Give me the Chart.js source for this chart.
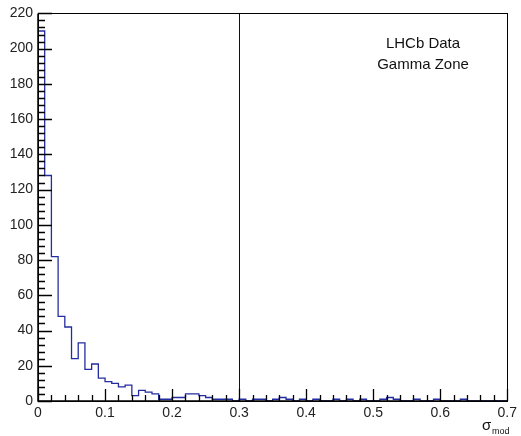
<!DOCTYPE html>
<html>
<head>
<meta charset="utf-8">
<script src="https://cdn.jsdelivr.net/npm/chart.js@4/dist/chart.umd.min.js"></script>
<style>
html,body{margin:0;padding:0;background:#fff;}
#wrap{width:521px;height:436px;position:relative;}
</style>
</head>
<body>
<div id="wrap"><canvas id="c" width="521" height="436"></canvas></div>
<script>
// ---- data ----
const binWidth = 0.01;
const counts = [
  210, 128, 82, 48, 42, 24, 33, 18, 21, 13,
  11, 10, 8, 9, 3, 6, 5, 4, 1, 1,
  2, 2, 4, 4, 3, 2, 1, 1, 1, 0,
  1, 0, 1, 1, 0, 1, 2, 1, 0, 1,
  0, 1, 0, 0, 1, 0, 1, 0, 1, 0,
  0, 1, 2, 1, 0, 0, 1, 0, 0, 1,
  0, 0, 0, 1, 0, 0, 0, 0, 0, 0
];
const xTickValues = [0, 0.1, 0.2, 0.3, 0.4, 0.5, 0.6, 0.7];
const xTickLabels = ['0', '0.1', '0.2', '0.3', '0.4', '0.5', '0.6', '0.7'];
const yTickValues = [0, 20, 40, 60, 80, 100, 120, 140, 160, 180, 200, 220];
const yTickLabels = ['0', '20', '40', '60', '80', '100', '120', '140', '160', '180', '200', '220'];
const cutValue = 0.3;
const legendLines = ['LHCb Data', 'Gamma Zone'];
const xTitle = 'σ';
const xTitleSub = 'mod';

// build step points from the histogram (value of bin i spans [i*w, (i+1)*w])
const histPoints = [{x: 0, y: 0}];
counts.forEach((v, i) => histPoints.push({x: (i + 1) * binWidth, y: v}));

const FONT = '"Liberation Sans", Arial, Helvetica, sans-serif';

const rootPlugin = {
  id: 'rootStyle',
  afterDraw(chart) {
    const {ctx, chartArea: a, scales: {x, y}} = chart;
    ctx.save();
    // cut line
    ctx.strokeStyle = '#111';
    ctx.lineWidth = 1;
    const cx = Math.round(x.getPixelForValue(cutValue)) + 0.5;
    ctx.beginPath();
    ctx.moveTo(cx, y.getPixelForValue(0));
    ctx.lineTo(cx, y.getPixelForValue(220));
    ctx.stroke();
    // frame
    ctx.strokeStyle = '#000';
    ctx.lineWidth = 1;
    ctx.strokeRect(Math.round(a.left) + 0.5, Math.round(a.top) + 0.5,
                   Math.round(a.right - a.left), Math.round(a.bottom - a.top));
    ctx.lineWidth = 1.5;
    ctx.beginPath();
    ctx.moveTo(a.left, a.top); ctx.lineTo(a.left, a.bottom); ctx.lineTo(a.right, a.bottom);
    ctx.stroke();
    // y ticks (inward)
    ctx.lineWidth = 1.3;
    ctx.beginPath();
    for (let v = 0; v <= 220 + 1e-9; v += 4) {
      const py = Math.round(y.getPixelForValue(v)) + 0.5;
      const len = (v % 20 === 0) ? 14 : 7;
      ctx.moveTo(a.left, py); ctx.lineTo(a.left + len, py);
    }
    ctx.stroke();
    // x ticks (inward)
    ctx.beginPath();
    for (let i = 0; i <= 35; i++) {
      const v = i * 0.02;
      const px = Math.round(x.getPixelForValue(v)) + 0.5;
      const len = (i % 5 === 0) ? 12 : 6;
      ctx.moveTo(px, a.bottom); ctx.lineTo(px, a.bottom - len);
    }
    ctx.stroke();
    // text box
    ctx.fillStyle = '#111';
    ctx.font = '15px ' + FONT;
    ctx.textAlign = 'center';
    ctx.textBaseline = 'middle';
    ctx.fillText(legendLines[0], 423, 44);
    ctx.fillText(legendLines[1], 423, 65);
    // x title
    ctx.textAlign = 'left';
    ctx.font = '15px ' + FONT;
    ctx.fillText(xTitle, 482, 426);
    ctx.font = '9px ' + FONT;
    ctx.fillText(xTitleSub, 492, 432);
    ctx.restore();
  }
};

new Chart(document.getElementById('c'), {
  type: 'line',
  data: {
    datasets: [{
      data: histPoints,
      stepped: 'after',
      borderColor: 'rgb(35,45,160)',
      borderWidth: 1.3,
      pointRadius: 0,
      fill: false
    }]
  },
  options: {
    responsive: false,
    animation: false,
    events: [],
    layout: {padding: {left: 0, right: 10, top: 11, bottom: 0}},
    plugins: {legend: {display: false}, tooltip: {enabled: false}},
    scales: {
      x: {
        type: 'linear', min: 0, max: 0.7,
        afterFit(s) { s.height = 35; },
        afterBuildTicks(s) { s.ticks = xTickValues.map(v => ({value: v})); },
        grid: {display: false, drawTicks: false},
        border: {display: false},
        ticks: {
          padding: 4, color: '#222', maxRotation: 0, autoSkip: false,
          font: {size: 14, family: FONT},
          callback: (v) => { const i = xTickValues.findIndex(t => Math.abs(t - v) < 1e-6); return i >= 0 ? xTickLabels[i] : ''; }
        }
      },
      y: {
        type: 'linear', min: 0, max: 220,
        afterFit(s) { s.width = 38; },
        afterBuildTicks(s) { s.ticks = yTickValues.map(v => ({value: v})); },
        grid: {display: false, drawTicks: false},
        border: {display: false},
        ticks: {
          padding: 5, color: '#222', autoSkip: false,
          font: {size: 14, family: FONT},
          callback: (v) => { const i = yTickValues.indexOf(v); return i >= 0 ? yTickLabels[i] : ''; }
        }
      }
    }
  },
  plugins: [rootPlugin]
});
</script>
</body>
</html>
